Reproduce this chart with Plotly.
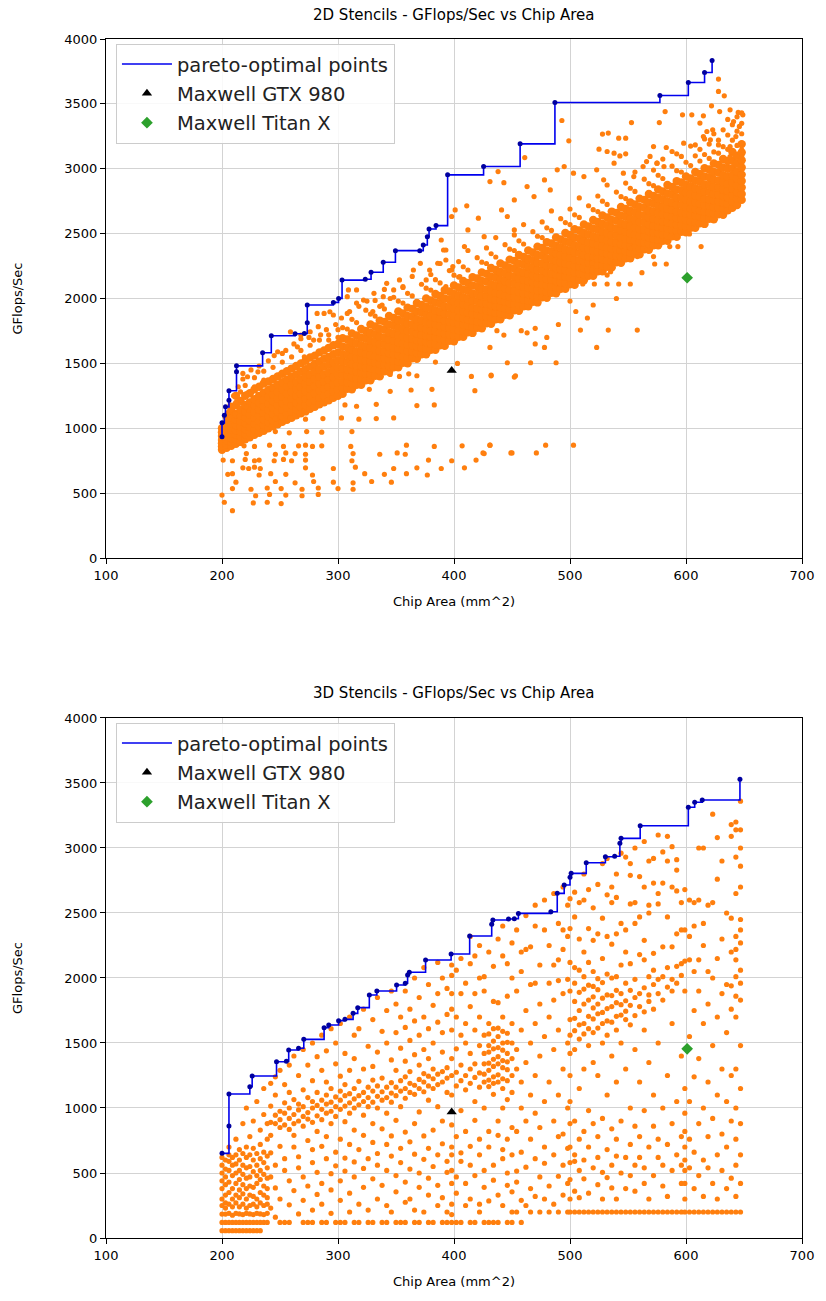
import plotly.graph_objects as go

# ---------------- 2D stencils ----------------
pareto_2d_area = [200, 200, 202, 203, 206, 206, 212.5, 212.5, 235, 242.5, 263, 271, 273.5, 273.5, 296, 300.5,
                  303.5, 323.5, 328.5, 339, 349.5, 370.5, 373.5, 377, 378.5, 384.5, 394.5, 425.5, 457, 487,
                  577.5, 602, 616, 622.5]
pareto_2d_gflops = [934, 1042, 1101, 1165, 1217, 1289, 1435, 1481, 1582, 1713, 1728, 1731, 1813, 1950, 1970, 2001,
                    2142, 2148, 2202, 2279, 2369, 2369, 2413, 2477, 2536, 2562, 2953, 3017, 3192, 3511,
                    3565, 3665, 3742, 3835]
gtx980_2d = [398, 1445]
titanx_2d = [601, 2160]

# dense main band of design points: (chip area, [GFlops values])
band_2d = [
    (200, [835, 860, 885, 910, 940, 970, 1000]),
    (204, [850, 875, 905, 935, 965, 1000, 1040, 1090]),
    (208, [865, 895, 925, 960, 995, 1035, 1080, 1140]),
    (212, [880, 915, 950, 985, 1025, 1065, 1110, 1180, 1250]),
    (216, [895, 935, 975, 1015, 1055, 1100, 1145, 1210]),
    (220, [915, 955, 995, 1040, 1085, 1130, 1180, 1250, 1330]),
    (224, [930, 970, 1015, 1060, 1105, 1150, 1200, 1270]),
    (228, [950, 990, 1035, 1080, 1125, 1175, 1225, 1300, 1390]),
    (232, [965, 1010, 1055, 1100, 1145, 1195, 1250, 1320]),
    (236, [980, 1025, 1070, 1120, 1170, 1220, 1275, 1345, 1440]),
    (240, [1000, 1045, 1090, 1140, 1190, 1240, 1295, 1360]),
    (244, [1015, 1060, 1110, 1160, 1210, 1260, 1315, 1380, 1470]),
    (248, [1030, 1080, 1130, 1180, 1230, 1280, 1335, 1400]),
    (252, [1050, 1095, 1145, 1195, 1245, 1300, 1355, 1420, 1510]),
    (256, [1065, 1110, 1160, 1210, 1265, 1320, 1375, 1440]),
    (260, [1080, 1130, 1180, 1230, 1280, 1335, 1395, 1460, 1550]),
    (264, [1100, 1145, 1195, 1250, 1300, 1355, 1415, 1480]),
    (268, [1115, 1165, 1215, 1265, 1320, 1375, 1435, 1500, 1600]),
    (272, [1130, 1180, 1230, 1285, 1340, 1395, 1455, 1520]),
    (276, [1150, 1200, 1250, 1305, 1360, 1415, 1475, 1545, 1640]),
    (280, [1165, 1215, 1270, 1325, 1380, 1435, 1495, 1560]),
    (284, [1185, 1235, 1290, 1345, 1400, 1455, 1515, 1585, 1680]),
    (288, [1200, 1250, 1305, 1360, 1415, 1475, 1535, 1600]),
    (292, [1215, 1265, 1320, 1375, 1430, 1490, 1550, 1620, 1720]),
    (296, [1235, 1285, 1340, 1395, 1450, 1510, 1570, 1640]),
    (300, [1250, 1300, 1355, 1410, 1465, 1525, 1585, 1650, 1760]),
    (304, [1265, 1310, 1360, 1410, 1460, 1515, 1570, 1630, 1695, 1775]),
    (308, [1305, 1355, 1405, 1455, 1510, 1565, 1625, 1685, 1765, 1885]),
    (312, [1300, 1345, 1395, 1445, 1495, 1550, 1605, 1665, 1730, 1840]),
    (316, [1335, 1385, 1435, 1485, 1540, 1595, 1655, 1715, 1815, 1965]),
    (320, [1335, 1380, 1430, 1480, 1530, 1585, 1640, 1700, 1765]),
    (324, [1370, 1420, 1470, 1520, 1575, 1630, 1690, 1750, 1910]),
    (328, [1370, 1415, 1465, 1515, 1565, 1620, 1675, 1735, 1800, 1880]),
    (332, [1405, 1455, 1505, 1555, 1610, 1665, 1725, 1785, 1865, 1985]),
    (336, [1400, 1445, 1495, 1545, 1595, 1650, 1705, 1765, 1830, 1940]),
    (340, [1440, 1490, 1540, 1590, 1645, 1700, 1760, 1820, 1920, 2070]),
    (344, [1435, 1480, 1530, 1580, 1630, 1685, 1740, 1800, 1865]),
    (348, [1470, 1520, 1570, 1620, 1675, 1730, 1790, 1850, 2010]),
    (352, [1470, 1515, 1565, 1615, 1665, 1720, 1775, 1835, 1900, 1980]),
    (356, [1505, 1555, 1605, 1655, 1710, 1765, 1825, 1885, 1965, 2085]),
    (360, [1500, 1545, 1595, 1645, 1695, 1750, 1805, 1865, 1930, 2040]),
    (364, [1540, 1590, 1640, 1690, 1745, 1800, 1860, 1920, 2020, 2170]),
    (368, [1535, 1580, 1630, 1680, 1730, 1785, 1840, 1900, 1965]),
    (372, [1570, 1620, 1670, 1720, 1775, 1830, 1890, 1950, 2110]),
    (376, [1570, 1615, 1665, 1715, 1765, 1820, 1875, 1935, 2000, 2080]),
    (380, [1605, 1655, 1705, 1755, 1810, 1865, 1925, 1985, 2065, 2185]),
    (384, [1605, 1650, 1700, 1750, 1800, 1855, 1910, 1970, 2035, 2145]),
    (388, [1640, 1690, 1740, 1790, 1845, 1900, 1960, 2020, 2120, 2270]),
    (392, [1635, 1680, 1730, 1780, 1830, 1885, 1940, 2000, 2065]),
    (396, [1675, 1725, 1775, 1825, 1880, 1935, 1995, 2055, 2215]),
    (400, [1670, 1715, 1765, 1815, 1865, 1920, 1975, 2035, 2100, 2180]),
    (404, [1705, 1755, 1805, 1855, 1910, 1965, 2025, 2085, 2165, 2285]),
    (408, [1705, 1750, 1800, 1850, 1900, 1955, 2010, 2070, 2135, 2245]),
    (412, [1740, 1790, 1840, 1890, 1945, 2000, 2060, 2120, 2220, 2370]),
    (416, [1735, 1780, 1830, 1880, 1930, 1985, 2040, 2100, 2165]),
    (420, [1775, 1825, 1875, 1925, 1980, 2035, 2095, 2155, 2315]),
    (424, [1770, 1815, 1865, 1915, 1965, 2020, 2075, 2135, 2200, 2280]),
    (428, [1810, 1860, 1910, 1960, 2015, 2070, 2130, 2190, 2270, 2390]),
    (432, [1805, 1850, 1900, 1950, 2000, 2055, 2110, 2170, 2235, 2345]),
    (436, [1840, 1890, 1940, 1990, 2045, 2100, 2160, 2220, 2320, 2470]),
    (440, [1840, 1885, 1935, 1985, 2035, 2090, 2145, 2205, 2270]),
    (444, [1875, 1925, 1975, 2025, 2080, 2135, 2195, 2255, 2415]),
    (448, [1870, 1915, 1965, 2015, 2065, 2120, 2175, 2235, 2300, 2380]),
    (452, [1910, 1960, 2010, 2060, 2115, 2170, 2230, 2290, 2370, 2490]),
    (456, [1905, 1950, 2000, 2050, 2100, 2155, 2210, 2270, 2335, 2445]),
    (460, [1940, 1990, 2040, 2090, 2145, 2200, 2260, 2320, 2420, 2570]),
    (464, [1940, 1985, 2035, 2085, 2135, 2190, 2245, 2305, 2370]),
    (468, [1975, 2025, 2075, 2125, 2180, 2235, 2295, 2355, 2515]),
    (472, [1970, 2015, 2065, 2115, 2165, 2220, 2275, 2335, 2400, 2480]),
    (476, [2010, 2060, 2110, 2160, 2215, 2270, 2330, 2390, 2470, 2590]),
    (480, [2005, 2050, 2100, 2150, 2200, 2255, 2310, 2370, 2435, 2545]),
    (484, [2045, 2095, 2145, 2195, 2250, 2305, 2365, 2425, 2525, 2675]),
    (488, [2040, 2085, 2135, 2185, 2235, 2290, 2345, 2405, 2470]),
    (492, [2075, 2125, 2175, 2225, 2280, 2335, 2395, 2455, 2615]),
    (496, [2075, 2120, 2170, 2220, 2270, 2325, 2380, 2440, 2505, 2585]),
    (500, [2110, 2160, 2210, 2260, 2315, 2370, 2430, 2490, 2570, 2690]),
    (504, [2105, 2150, 2200, 2250, 2300, 2355, 2410, 2470, 2535, 2645]),
    (508, [2145, 2195, 2245, 2295, 2350, 2405, 2465, 2525, 2625, 2775]),
    (512, [2140, 2185, 2235, 2285, 2335, 2390, 2445, 2505, 2570]),
    (516, [2175, 2225, 2275, 2325, 2380, 2435, 2495, 2555, 2715]),
    (520, [2175, 2220, 2270, 2320, 2370, 2425, 2480, 2540, 2605, 2685]),
    (524, [2210, 2260, 2310, 2360, 2415, 2470, 2530, 2590, 2670, 2790]),
    (528, [2210, 2255, 2305, 2355, 2405, 2460, 2515, 2575, 2640, 2750]),
    (532, [2245, 2295, 2345, 2395, 2450, 2505, 2565, 2625, 2725, 2875]),
    (536, [2240, 2285, 2335, 2385, 2435, 2490, 2545, 2605, 2670]),
    (540, [2280, 2330, 2380, 2430, 2485, 2540, 2600, 2660, 2820]),
    (544, [2275, 2320, 2370, 2420, 2470, 2525, 2580, 2640, 2705, 2785]),
    (548, [2310, 2360, 2410, 2460, 2515, 2570, 2630, 2690, 2770, 2890]),
    (552, [2310, 2355, 2405, 2455, 2505, 2560, 2615, 2675, 2740, 2850]),
    (556, [2345, 2395, 2445, 2495, 2550, 2605, 2665, 2725, 2825, 2975]),
    (560, [2340, 2385, 2435, 2485, 2535, 2590, 2645, 2705, 2770]),
    (564, [2380, 2430, 2480, 2530, 2585, 2640, 2700, 2760, 2920]),
    (568, [2375, 2420, 2470, 2520, 2570, 2625, 2680, 2740, 2805, 2885]),
    (572, [2410, 2460, 2510, 2560, 2615, 2670, 2730, 2790, 2870, 2990]),
    (576, [2410, 2455, 2505, 2555, 2605, 2660, 2715, 2775, 2840, 2950]),
    (580, [2445, 2495, 2545, 2595, 2650, 2705, 2765, 2825, 2925, 3075]),
    (584, [2445, 2490, 2540, 2590, 2640, 2695, 2750, 2810, 2875]),
    (588, [2480, 2530, 2580, 2630, 2685, 2740, 2800, 2860, 3020]),
    (592, [2475, 2520, 2570, 2620, 2670, 2725, 2780, 2840, 2905, 2985]),
    (596, [2515, 2565, 2615, 2665, 2720, 2775, 2835, 2895, 2975, 3095]),
    (600, [2510, 2555, 2605, 2655, 2705, 2760, 2815, 2875, 2940, 3050]),
    (604, [2545, 2595, 2645, 2695, 2750, 2805, 2865, 2925, 3025, 3175]),
    (608, [2545, 2590, 2640, 2690, 2740, 2795, 2850, 2910, 2975, 3100]),
    (612, [2580, 2630, 2680, 2730, 2785, 2840, 2900, 2960, 3060, 3150]),
    (616, [2575, 2620, 2670, 2720, 2770, 2825, 2880, 2940, 3005, 3110, 3230]),
    (620, [2615, 2665, 2715, 2765, 2820, 2875, 2935, 2995, 3080, 3190]),
    (624, [2610, 2655, 2705, 2755, 2805, 2860, 2915, 2975, 3040, 3130, 3270]),
    (628, [2650, 2700, 2750, 2800, 2855, 2910, 2970, 3030, 3120, 3220]),
    (632, [2645, 2690, 2740, 2790, 2840, 2895, 2950, 3010, 3075, 3170, 3300]),
    (636, [2680, 2730, 2780, 2830, 2885, 2940, 3000, 3060, 3150, 3260, 3380]),
    (640, [2700, 2745, 2795, 2845, 2895, 2950, 3005, 3065, 3130, 3220, 3340]),
    (644, [2720, 2770, 2820, 2870, 2925, 2980, 3040, 3100, 3180, 3290, 3400]),
    (648, [2760, 2805, 2855, 2905, 2955, 3010, 3065, 3125, 3190, 3270, 3350, 3430]),
]

# scattered points above the main band
upper_2d_area = [218, 222, 231, 236, 221, 228, 248, 252, 265, 271, 279, 283, 282, 288, 293, 296, 259, 268, 276, 251,
                 309, 316, 308, 322, 331, 339, 348, 342, 353, 365, 371, 379, 391, 393, 399, 405, 376, 393, 356,
                 216, 211, 221, 207, 210, 214, 218, 205, 212, 216,
                 225, 232, 240, 245, 255, 262, 268, 275, 285, 290, 298, 303, 310, 318, 325, 330, 338, 345, 300, 292,
                 493, 499, 461, 438, 431, 443, 401, 411, 421, 393, 389,
                 533, 528, 542, 548, 553, 577, 582, 597, 605, 615, 628, 628, 633, 622, 629, 638, 645, 649,
                 525, 532, 538, 543, 548, 583, 588, 592, 598, 608, 572, 566, 575, 581,
                 612, 618, 623, 641, 646, 643, 648, 648, 648, 638, 638, 628, 621, 615,
                 452, 463, 469, 478, 483, 489, 495, 503, 512, 523, 529, 538, 546, 555, 563, 569, 575,
                 398, 412, 426, 409, 386, 398, 441, 446, 452]
upper_2d_gflops = [1423, 1397, 1435, 1371, 1268, 1320, 1590, 1577, 1628, 1551, 1680, 1783, 1885, 1885, 1898, 1873, 1744, 1718, 1744, 1423,
                   2066, 2066, 2014, 1988, 2040, 2014, 2066, 2117, 2143, 2220, 2271, 2220, 2374, 2297, 2246, 2168, 2143, 2091, 2091,
                   1217, 1114, 1165, 1180, 1250, 1320, 1380, 1120, 1200, 1280,
                   1450, 1480, 1520, 1560, 1600, 1650, 1690, 1700, 1720, 1760, 1800, 1850, 1900, 1940, 1980, 1900, 1950, 2000, 1700, 1680,
                   3372, 3215, 3086, 2978, 2901, 2893, 2683, 2714, 2619, 2374, 2451,
                   3275, 3267, 3236, 3236, 3356, 3356, 3441, 3416, 3416, 3408, 3691, 3596, 3562, 3485, 3441, 3454, 3434, 3416,
                   3151, 3133, 3120, 3099, 3115, 3164, 3133, 3115, 3197, 3184, 3171, 3055, 3043, 3017,
                   3352, 3287, 3300, 3364, 3326, 3248, 3197, 3146, 3094, 3171, 3094, 3184, 3223, 3248,
                   2760, 2863, 2786, 2914, 2837, 2992, 3017, 2966, 2940, 2992, 2915, 3043, 2966, 2940, 3017, 3095, 3043,
                   2632, 2529, 2477, 2400, 2272, 2220, 2683, 2632, 2529]

# scattered points below the main band
lower_2d_area = [345, 353, 361, 368, 384, 403, 415, 432, 452,
                 327, 345, 363, 381, 418,
                 306, 316, 333, 368, 383,
                 246, 259, 272, 287, 303, 318, 333, 348,
                 246, 258, 273, 286, 312,
                 219, 228, 241, 253, 266, 272, 278, 286, 311, 359, 383, 407, 431, 449,
                 221, 246, 255, 263, 272, 313, 336, 351, 358, 378, 398, 419, 426,
                 201, 209, 220, 228, 232, 245, 253, 260, 272, 312,
                 218, 223, 228, 233, 272, 296, 315, 348, 368, 389, 409,
                 205, 209, 232, 242, 255, 278, 323, 340, 359, 377,
                 212, 246, 263, 279, 296, 313, 329, 346,
                 209, 225, 239, 251, 269, 283, 300, 313,
                 200, 229, 241, 255, 269, 283,
                 202, 227, 239, 251, 209,
                 509, 533, 558, 478, 523, 431, 446, 466, 488, 432, 453, 431, 425, 450, 471, 479, 503, 458, 463, 437, 443,
                 500, 511, 521, 532, 542, 552, 562, 573, 583, 572, 558, 593, 613, 603, 592, 586, 532, 535, 519, 542, 552,
                 470, 480, 490, 505, 520, 540, 515, 470, 500]
lower_2d_gflops = [1415, 1400, 1420, 1405, 1510, 1500, 1400, 1410, 1395,
                   1300, 1285, 1295, 1300, 1290,
                   1180, 1170, 1185, 1175, 1180,
                   1075, 1080, 1070, 1075, 1080, 1070, 1075, 1080,
                   975, 965, 975, 970, 975,
                   865, 860, 870, 860, 865, 870, 860, 865, 860, 870, 860, 865, 870, 810,
                   805, 800, 810, 805, 800, 805, 800, 810, 800, 755, 750, 755, 805,
                   755, 750, 760, 750, 755, 750, 760, 750, 755, 750,
                   695, 690, 700, 690, 695, 690, 700, 690, 695, 690, 695,
                   645, 650, 640, 650, 645, 640, 650, 645, 650, 640,
                   585, 590, 580, 590, 585, 580, 590, 585,
                   535, 530, 540, 535, 530, 540, 535, 530,
                   485, 480, 490, 485, 480, 490,
                   430, 425, 430, 420, 365,
                   1757, 1757, 1757, 1623, 1623, 1623, 1505, 1505, 1505, 1404, 1404, 870, 810, 810, 810, 870, 870, 1752, 1736, 1752, 1718,
                   2112, 2112, 2112, 2112, 2112, 2112, 2199, 2266, 2266, 2323, 2323, 2400, 2400, 2498, 2482, 2400, 2181, 2207, 2272, 2369, 2387,
                   1650, 1700, 1800, 1900, 1950, 2000, 1850, 1770, 1980]

# ---------------- 3D stencils ----------------
pareto_3d_area = [200, 206, 206, 224, 226, 247, 255.5, 257.5, 266, 270.5, 288, 292, 300.5, 306, 313, 317, 327, 333.5,
                  350.5, 358, 360, 361.5, 375.5, 397.5, 413.5, 432.5, 433.5, 447, 452, 455.5, 483.5, 489, 495, 500,
                  501, 514, 530.5, 538.5, 543, 544, 560.5, 602, 607.5, 614, 646.5]
pareto_3d_gflops = [651, 862, 1108, 1164, 1246, 1356, 1360, 1446, 1459, 1528, 1618, 1638, 1672, 1682, 1728, 1772, 1869, 1900,
                    1946, 1959, 2023, 2044, 2138, 2185, 2323, 2413, 2446, 2454, 2456, 2497, 2510, 2651, 2715, 2774,
                    2805, 2887, 2933, 2936, 3036, 3074, 3171, 3313, 3352, 3369, 3528]
gtx980_3d = [398, 970]
titanx_3d = [601, 1455]

cols_3d = [
    (200, [56, 120, 184, 250, 300, 380, 440, 500, 560, 620]),
    (203, [56, 120, 184, 230, 270, 330, 410, 470, 530, 600]),
    (206, [56, 120, 190, 260, 350, 430, 520, 590, 640, 700]),
    (209, [56, 120, 175, 240, 300, 380, 480, 560, 620]),
    (212, [56, 120, 190, 270, 330, 420, 500, 570, 640, 760]),
    (215, [56, 120, 185, 240, 310, 370, 450, 520, 600, 680]),
    (218, [56, 120, 180, 260, 340, 410, 490, 560, 650, 880]),
    (221, [56, 120, 190, 230, 300, 380, 460, 540, 620, 700, 1000]),
    (224, [56, 120, 185, 250, 330, 400, 470, 550, 640, 780]),
    (227, [56, 120, 180, 260, 320, 390, 510, 600, 690, 900]),
    (230, [56, 120, 190, 240, 300, 420, 480, 560, 650, 1050]),
    (233, [56, 120, 185, 270, 350, 450, 520, 610, 720, 830]),
    (236, [120, 180, 250, 330, 400, 490, 580, 660, 950, 1150]),
    (239, [120, 190, 260, 310, 380, 460, 540, 630, 760, 880]),
    (242, [230, 470, 655, 790, 890, 1015, 1190]),
    (246, [160, 385, 560, 880, 945, 1100, 1240]),
    (250, [120, 300, 705, 850, 910, 975, 1290]),
    (254, [120, 520, 610, 870, 960, 1040, 1180]),
    (258, [120, 255, 440, 835, 920, 1000, 1120, 1330]),
    (262, [365, 700, 790, 880, 950, 1065, 1400]),
    (266, [185, 540, 625, 900, 985, 1030, 1250]),
    (270, [120, 290, 470, 860, 935, 1010, 1140, 1450]),
    (274, [120, 400, 750, 915, 965, 1080, 1330]),
    (278, [120, 215, 580, 680, 890, 1000, 1050, 1210, 1500]),
    (282, [335, 505, 820, 940, 1020, 1120, 1395]),
    (286, [120, 260, 420, 705, 910, 990, 1060, 1290, 1560]),
    (290, [120, 610, 780, 960, 1030, 1100, 1200, 1440]),
    (294, [190, 370, 495, 880, 975, 1045, 1150, 1610]),
    (298, [120, 555, 660, 935, 1010, 1085, 1340, 1500]),
    (302, [120, 290, 440, 760, 990, 1060, 1130, 1245, 1650]),
    (306, [120, 515, 615, 895, 1015, 1095, 1180, 1420]),
    (310, [200, 345, 720, 960, 1040, 1110, 1290, 1700]),
    (314, [120, 470, 585, 830, 1000, 1070, 1150, 1380, 1560]),
    (318, [120, 260, 680, 1025, 1095, 1205, 1610]),
    (322, [390, 535, 790, 945, 1050, 1120, 1300, 1760]),
    (326, [120, 215, 610, 1010, 1080, 1160, 1475]),
    (330, [120, 455, 735, 880, 1045, 1130, 1215, 1320, 1680]),
    (334, [300, 560, 650, 1000, 1090, 1170, 1430, 1850]),
    (338, [120, 405, 840, 1060, 1125, 1230, 1590]),
    (342, [120, 250, 520, 720, 960, 1080, 1160, 1500, 1750]),
    (346, [200, 630, 785, 1045, 1115, 1195, 1370, 1900]),
    (350, [120, 355, 480, 905, 1095, 1160, 1290, 1580, 1800]),
    (354, [120, 580, 690, 1010, 1130, 1210, 1460, 1700]),
    (358, [120, 275, 430, 815, 1075, 1150, 1240, 1360, 1620, 1900]),
    (362, [300, 530, 740, 1120, 1190, 1280, 1520, 1760]),
    (366, [120, 215, 645, 880, 1105, 1175, 1410, 1670, 2000]),
    (370, [120, 390, 500, 970, 1150, 1220, 1330, 1560, 1850]),
    (374, [200, 605, 785, 1125, 1200, 1265, 1450, 1700, 2080]),
    (378, [120, 330, 460, 690, 1060, 1170, 1245, 1380, 1610, 1950]),
    (382, [120, 550, 830, 1150, 1225, 1300, 1500, 1790]),
    (386, [250, 405, 640, 1010, 1180, 1260, 1660, 1880, 2120]),
    (390, [120, 310, 725, 900, 1200, 1280, 1430, 1580, 2000]),
    (394, [120, 200, 505, 590, 1120, 1230, 1310, 1720, 1920]),
    (398, [120, 180, 260, 420, 520, 640, 700, 870, 1100, 1250, 1380, 1600, 1760, 1880, 2020, 2100]),
    (402, [120, 345, 470, 780, 1170, 1275, 1455, 1700, 2060]),
    (406, [120, 590, 655, 980, 1210, 1330, 1560, 1880, 2150]),
    (410, [250, 420, 820, 1140, 1250, 1500, 1650, 1960]),
    (414, [120, 300, 560, 705, 1190, 1300, 1420, 1780, 2110, 2320]),
    (418, [120, 480, 905, 1050, 1235, 1340, 1600, 1880, 2170]),
    (422, [200, 260, 640, 760, 1160, 1270, 1480, 1700, 2000, 2250]),
    (426, [120, 390, 520, 1000, 1200, 1260, 1340, 1420, 1560, 1900, 2010]),
    (430, [120, 285, 700, 820, 1165, 1215, 1290, 1345, 1430, 1480, 1570, 1650, 2200]),
    (434, [120, 445, 560, 1105, 1190, 1240, 1320, 1375, 1455, 1515, 1610, 1820, 2090]),
    (438, [120, 330, 790, 900, 1200, 1255, 1340, 1395, 1465, 1550, 1615, 1810, 2300]),
    (442, [250, 610, 680, 1000, 1150, 1225, 1310, 1365, 1445, 1500, 1590, 1700, 2170, 2400]),
    (446, [120, 405, 500, 760, 1065, 1210, 1295, 1355, 1420, 1505, 1575, 1860, 2110]),
    (450, [120, 200, 355, 640, 850, 1120, 1250, 1380, 1500, 1650, 2000, 2270]),
    (454, [200, 430, 515, 820, 1300, 1450, 1900, 2370]),
    (458, [120, 290, 660, 1000, 1200, 1600, 2050, 2200]),
    (462, [250, 545, 900, 1350, 1750, 2220, 2480]),
    (466, [200, 380, 760, 1100, 1500, 1950, 2240]),
    (470, [320, 610, 960, 1250, 1650, 1960, 2400, 2560]),
    (474, [200, 470, 850, 1400, 1800, 2100]),
    (478, [300, 575, 700, 1050, 1550, 2370, 2600]),
    (482, [200, 400, 1200, 1700, 1960, 2250]),
    (486, [260, 640, 900, 1450, 1830, 2100, 2650]),
    (490, [200, 475, 780, 1100, 1600, 1980, 2140, 2420]),
    (494, [330, 560, 800, 1300, 1880, 2220, 2370, 2700]),
    (498, [200, 420, 690, 1000, 1500, 1990, 2320, 2560]),
    (500, [200, 300, 450, 580, 700, 880, 1050, 1250, 1420, 1560, 1680, 1900, 2120, 2380, 2610]),
    (504, [200, 360, 590, 640, 900, 1450, 1595, 1690, 1820, 1960, 2080, 2470, 2660]),
    (508, [200, 310, 520, 760, 1150, 1530, 1640, 1750, 1890, 2060, 2300, 2580]),
    (512, [200, 455, 600, 820, 1300, 1570, 1650, 1800, 1915, 2010, 2200, 2600, 2800]),
    (516, [200, 345, 700, 980, 1480, 1610, 1705, 1830, 1945, 2120, 2380, 2680]),
    (520, [200, 540, 880, 1350, 1580, 1685, 1770, 1855, 1935, 2050, 2290, 2540]),
    (524, [200, 410, 620, 780, 1250, 1615, 1725, 1800, 1910, 1995, 2340, 2720]),
    (528, [200, 300, 505, 920, 1500, 1650, 1735, 1845, 1965, 2150, 2460, 2880]),
    (532, [200, 465, 680, 1100, 1560, 1670, 1765, 1870, 2030, 2320, 2640, 2920]),
    (536, [200, 385, 560, 840, 1400, 1660, 1780, 1865, 2000, 2260, 2580, 2700]),
    (540, [200, 300, 630, 760, 1200, 1600, 1705, 1810, 1905, 2010, 2340, 2620, 2800]),
    (544, [200, 500, 900, 1500, 1715, 1795, 1880, 2100, 2420, 2960]),
    (548, [200, 380, 620, 1300, 1680, 1745, 1825, 1960, 2200, 2370, 2930]),
    (552, [200, 480, 720, 1000, 1640, 1790, 1905, 2110, 2570, 2790, 2880]),
    (556, [200, 360, 560, 860, 1450, 1710, 1850, 1990, 2420, 2580, 3000]),
    (560, [200, 620, 780, 1200, 1780, 1880, 2180, 2470, 2780]),
    (564, [200, 420, 540, 980, 1600, 1740, 1925, 2140, 2290, 2700, 3050]),
    (568, [200, 300, 700, 1350, 1820, 1870, 2010, 2500, 2560, 2900]),
    (572, [200, 480, 860, 1100, 1760, 1950, 2060, 2190, 2730, 2920]),
    (576, [200, 620, 760, 1500, 1880, 1990, 2570, 2650, 3100]),
    (580, [200, 400, 560, 1000, 1830, 2010, 2240, 2730, 2970]),
    (584, [200, 320, 720, 1250, 1930, 2080, 2470, 2900, 3090]),
    (588, [200, 520, 880, 1650, 1900, 1990, 2240, 2700, 3010]),
    (592, [200, 640, 1050, 1960, 2090, 2340, 2670, 2830, 2910]),
    (596, [200, 420, 560, 780, 1400, 2020, 2110, 2370, 2580]),
    (599, [200, 300, 420, 520, 600, 700, 820, 960, 1150, 1900, 2130, 2370, 2680]),
    (603, [200, 540, 760, 1050, 1550, 2140, 2320, 2600]),
    (607, [200, 380, 660, 1240, 1750, 2050, 2400, 2580]),
    (611, [200, 480, 880, 1380, 1900, 2140, 2600, 3000]),
    (615, [200, 320, 600, 1000, 1650, 2250, 2420, 3000]),
    (619, [200, 540, 780, 1200, 1800, 2050, 2560]),
    (623, [200, 420, 920, 1480, 2000, 2580, 3260]),
    (627, [200, 300, 640, 1100, 1700, 2150, 2760, 3080]),
    (631, [200, 520, 800, 1300, 1880, 2300, 2900]),
    (635, [200, 380, 700, 1050, 1580, 1950, 2500]),
    (639, [200, 460, 900, 1250, 1760, 1940, 2200, 2460, 3090, 3180]),
    (643, [200, 320, 560, 760, 1000, 1300, 1700, 1860, 2010, 2140, 2220, 2320, 2650, 2930, 3140, 3200]),
    (647, [200, 420, 640, 880, 1150, 1480, 1830, 1960, 2060, 2270, 2370, 2450, 2700, 2860, 3000, 3140, 3360]),
]

# ---------------- figure ----------------
FONT = "DejaVu Sans"
ORANGE = "#ff7f0e"


def flatten(cols):
    xs, ys = [], []
    for x, yl in cols:
        for y in yl:
            xs.append(x)
            ys.append(y)
    return xs, ys


def split_band(cols):
    """Core (tightly packed) points of each column vs. the looser points above them."""
    cx, cy, hx, hy = [], [], [], []
    for x, yl in cols:
        loose = False
        for i, y in enumerate(yl):
            if i > 0 and y - yl[i - 1] > 75:
                loose = True
            if loose:
                hx.append(x)
                hy.append(y)
            else:
                cx.append(x)
                cy.append(y)
    return cx, cy, hx, hy


cx, cy, hx, hy = split_band(band_2d)
sx2d = hx + upper_2d_area + lower_2d_area
sy2d = hy + upper_2d_gflops + lower_2d_gflops
x3d, y3d = flatten(cols_3d)

fig = go.Figure()


def add_orange(xs, ys, xa, ya, size):
    fig.add_trace(go.Scatter(x=xs, y=ys, mode="markers", xaxis=xa, yaxis=ya, showlegend=False,
                             marker=dict(color=ORANGE, size=size, line=dict(width=0)), hoverinfo="skip"))


def add_panel(px, py, gtx, titan, xa, ya, leg, tag):
    fig.add_trace(go.Scatter(x=px, y=py, mode="lines", line=dict(color="#0000ee", width=1.6, shape="hv"),
                             xaxis=xa, yaxis=ya, name="pareto-optimal points", legend=leg,
                             legendgroup="p" + tag))
    fig.add_trace(go.Scatter(x=px, y=py, mode="markers", marker=dict(color="#0000a0", size=5),
                             xaxis=xa, yaxis=ya, showlegend=False, hoverinfo="skip"))
    fig.add_trace(go.Scatter(x=[gtx[0]], y=[gtx[1]], mode="markers", xaxis=xa, yaxis=ya,
                             marker=dict(symbol="triangle-up", color="black", size=9),
                             name="Maxwell GTX 980", legend=leg, legendgroup="g" + tag))
    fig.add_trace(go.Scatter(x=[titan[0]], y=[titan[1]], mode="markers", xaxis=xa, yaxis=ya,
                             marker=dict(symbol="diamond", color="#2ca02c", size=9),
                             name="Maxwell Titan X", legend=leg, legendgroup="t" + tag))


add_orange(cx, cy, "x", "y", 8.4)
add_orange(sx2d, sy2d, "x", "y", 5.2)
add_panel(pareto_2d_area, pareto_2d_gflops, gtx980_2d, titanx_2d, "x", "y", "legend", "1")
add_orange(x3d, y3d, "x2", "y2", 5.2)
add_panel(pareto_3d_area, pareto_3d_gflops, gtx980_3d, titanx_3d, "x2", "y2", "legend2", "2")

axis_common = dict(showline=True, linecolor="black", linewidth=1.2, mirror=True, ticks="outside", ticklen=5,
                   tickcolor="black", showgrid=True, gridcolor="#d3d3d3", gridwidth=1, zeroline=False,
                   tickfont=dict(family=FONT, size=13, color="black"))

xcommon = dict(axis_common, range=[100, 700], tickmode="array", tickvals=[100, 200, 300, 400, 500, 600, 700],
               title=dict(text="Chip Area (mm^2)", font=dict(family=FONT, size=13, color="black"), standoff=15))
ycommon = dict(axis_common, range=[0, 4000], tickmode="array",
               tickvals=[0, 500, 1000, 1500, 2000, 2500, 3000, 3500, 4000],
               title=dict(text="GFlops/Sec", font=dict(family=FONT, size=13, color="black"), standoff=38))

legend_common = dict(xanchor="left", yanchor="top", bgcolor="rgba(255,255,255,0.85)", bordercolor="#cccccc",
                     borderwidth=1, font=dict(family=FONT, size=19.5, color="#222222"),
                     traceorder="grouped", tracegroupgap=1, itemwidth=50)

fig.update_layout(
    width=826, height=1301,
    margin=dict(l=106, r=20, t=39, b=63),
    paper_bgcolor="white", plot_bgcolor="white",
    xaxis=dict(xcommon, domain=[0, 1], anchor="y"),
    yaxis=dict(ycommon, domain=[0.5671, 1], anchor="x"),
    xaxis2=dict(xcommon, domain=[0, 1], anchor="y2"),
    yaxis2=dict(ycommon, domain=[0, 0.4337], anchor="x2"),
    legend=dict(legend_common, x=0.0143, y=0.996),
    legend2=dict(legend_common, x=0.0143, y=0.4297),
    annotations=[
        dict(text="2D Stencils - GFlops/Sec vs Chip Area", x=0.5, y=1.020, xref="paper", yref="paper",
             xanchor="center", yanchor="middle", showarrow=False, font=dict(family=FONT, size=15, color="black")),
        dict(text="3D Stencils - GFlops/Sec vs Chip Area", x=0.5, y=0.4545, xref="paper", yref="paper",
             xanchor="center", yanchor="middle", showarrow=False, font=dict(family=FONT, size=15, color="black")),
    ],
    showlegend=True,
)

fig.write_html("out.html", config={"displayModeBar": False})
